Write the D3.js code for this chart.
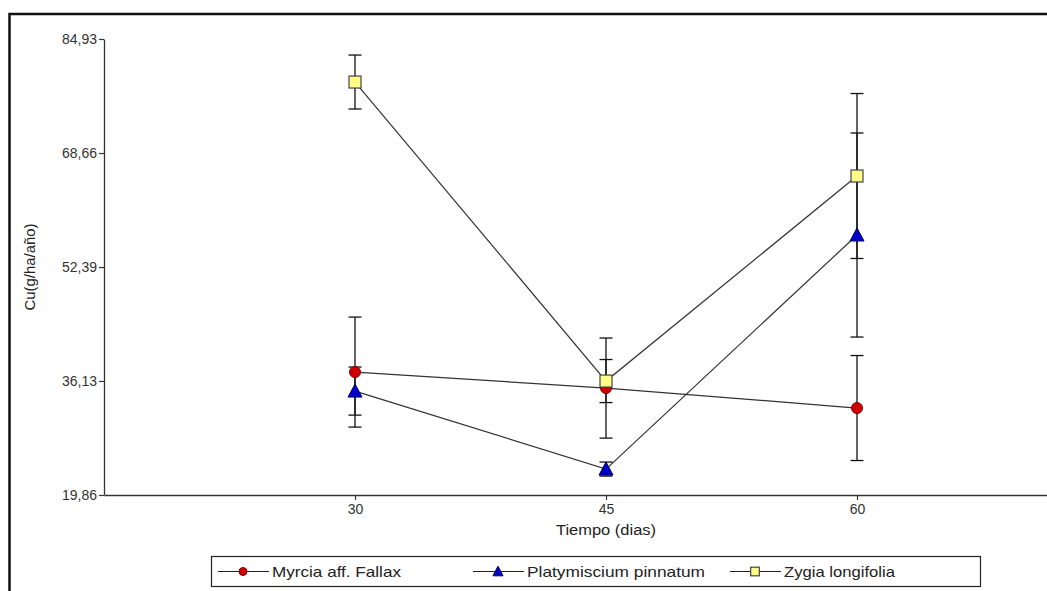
<!DOCTYPE html>
<html><head><meta charset="utf-8">
<script src="https://cdn.jsdelivr.net/npm/d3@7"></script>
<style>body{margin:0;background:#fff;} svg{display:block;font-family:"Liberation Sans",Arial,sans-serif;}</style>
</head><body>
<svg id="c" width="1047" height="591"></svg>
<script>
const days = [30, 45, 60];
const yTicks = [19.86, 36.13, 52.39, 68.66, 84.93];
const seriesNames = ["Myrcia aff. Fallax", "Platymiscium pinnatum", "Zygia longifolia"];
const myrcia = [37.40, 35.12, 32.27];
const myrciaErr = [7.85, 7.14, 7.49];
const platy = [34.69, 23.56, 56.96];
const platyErr = [3.43, 1.0, 14.56];
const zygia = [78.79, 36.12, 65.38];
const zygiaErr = [3.85, 3.07, 11.77];

const svg = d3.select("#c");
const x = d3.scaleLinear().domain([15, 75]).range([104, 1108]);
const y = d3.scaleLinear().domain([19.86, 84.93]).range([495, 39]);

// frame
svg.append("rect").attr("x", 9.5).attr("y", 14).attr("width", 1100).attr("height", 700)
  .attr("fill", "none").attr("stroke", "#111").attr("stroke-width", 2.5);

// axes
const fmt = d => d.toFixed(2).replace(".", ",");
const yAxis = svg.append("g").attr("transform", "translate(104,0)")
  .call(d3.axisLeft(y).tickValues(yTicks).tickFormat(fmt).tickSize(5).tickPadding(2).tickSizeOuter(0));
const xAxis = svg.append("g").attr("transform", "translate(0,495)")
  .call(d3.axisBottom(x).tickValues(days).tickFormat(d3.format("d")).tickSize(5).tickPadding(4).tickSizeOuter(0));
[yAxis, xAxis].forEach(g => {
  g.select(".domain").attr("stroke", "#333").attr("stroke-width", 1.3);
  g.selectAll(".tick line").attr("stroke", "#333").attr("stroke-width", 1.2);
  g.selectAll(".tick text").attr("fill", "#333").style("font-size", "14px").style("font-family", "Liberation Sans, Arial, sans-serif");
});

svg.append("text").attr("x", 606).attr("y", 535).attr("text-anchor", "middle")
  .attr("fill", "#222").style("font-size", "14px")
  .attr("textLength", 100).attr("lengthAdjust", "spacingAndGlyphs").text("Tiempo (dias)");
svg.append("text").attr("transform", "translate(35,267) rotate(-90)").attr("text-anchor", "middle")
  .attr("fill", "#222").style("font-size", "14px")
  .attr("textLength", 87).attr("lengthAdjust", "spacingAndGlyphs").text("Cu(g/ha/año)");

const series = [
  {name: seriesNames[0], vals: myrcia, err: myrciaErr, shape: "circle"},
  {name: seriesNames[1], vals: platy, err: platyErr, shape: "triangle"},
  {name: seriesNames[2], vals: zygia, err: zygiaErr, shape: "square"}
];

function marker(g, shape, cx, cy, s) {
  if (shape === "circle") {
    g.append("circle").attr("cx", cx).attr("cy", cy).attr("r", 5.5 * s)
      .attr("fill", "#d10000").attr("stroke", "#7a0000").attr("stroke-width", 1);
  } else if (shape === "triangle") {
    const h = 12 * s, w = 14 * s;
    g.append("path").attr("d", `M${cx},${cy - h/2 - 1}L${cx + w/2},${cy + h/2}L${cx - w/2},${cy + h/2}Z`)
      .attr("fill", "#0000c8").attr("stroke", "#000066").attr("stroke-width", 1);
  } else {
    const a = 12 * s;
    g.append("rect").attr("x", cx - a/2).attr("y", cy - a/2).attr("width", a).attr("height", a)
      .attr("fill", "#ffff88").attr("stroke", "#444").attr("stroke-width", 1.2);
  }
}

const line = d3.line().x((d, i) => x(days[i])).y(d => y(d));
series.forEach(s => {
  svg.append("path").attr("d", line(s.vals)).attr("fill", "none").attr("stroke", "#333").attr("stroke-width", 1.2);
});
series.forEach(s => {
  s.vals.forEach((v, i) => {
    const cx = x(days[i]), y1 = y(v + s.err[i]), y2 = y(v - s.err[i]);
    const g = svg.append("g").attr("stroke", "#111").attr("stroke-width", 1.3);
    g.append("line").attr("x1", cx).attr("x2", cx).attr("y1", y1).attr("y2", y2);
    g.append("line").attr("x1", cx - 6.5).attr("x2", cx + 6.5).attr("y1", y1).attr("y2", y1);
    g.append("line").attr("x1", cx - 6.5).attr("x2", cx + 6.5).attr("y1", y2).attr("y2", y2);
  });
});
series.forEach(s => {
  const g = svg.append("g");
  s.vals.forEach((v, i) => marker(g, s.shape, x(days[i]), y(v), 1));
});

// legend
svg.append("rect").attr("x", 211.5).attr("y", 556.5).attr("width", 769).attr("height", 30)
  .attr("fill", "#fff").attr("stroke", "#222").attr("stroke-width", 1.2);
const legendX = [218, 473, 730];
const legendLen = [129, 178, 111];
series.forEach((s, i) => {
  const g = svg.append("g");
  const lx = legendX[i];
  g.append("line").attr("x1", lx).attr("x2", lx + 51).attr("y1", 571.5).attr("y2", 571.5)
    .attr("stroke", "#222").attr("stroke-width", 1.2);
  marker(g, s.shape, lx + 25, 571.5, 0.72);
  g.append("text").attr("x", lx + 54).attr("y", 577).attr("fill", "#222").style("font-size", "15px")
    .attr("textLength", legendLen[i]).attr("lengthAdjust", "spacingAndGlyphs").text(s.name);
});
</script>
</body></html>
